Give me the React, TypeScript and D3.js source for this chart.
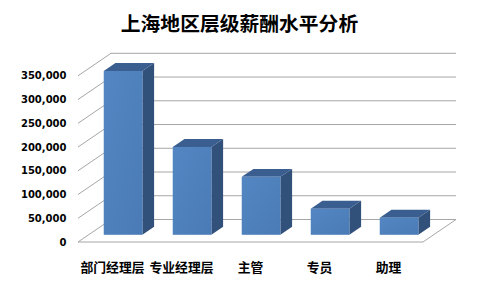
import React from "react";
import * as d3 from "d3";

const categories = ["部门经理层", "专业经理层", "主管", "专员", "助理"];
const salaries = [345000, 185000, 122000, 55000, 36000];
const yTicks = [0, 50000, 100000, 150000, 200000, 250000, 300000, 350000];
const title = "上海地区层级薪酬水平分析";

const W = 481;
const H = 285;
// front plane of the 3D box
const left = 78;
const right = 423;
const baseY = 242;
const topY = 75.8;
// oblique depth offset (full depth)
const DX = 33;
const DY = -22.5;
// bar depth span (fraction of full depth)
const t0 = 0.32;
const t1 = 0.675;

const fmt = d3.format(",");

export default function App() {
  const y = d3.scaleLinear().domain([0, 350000]).range([baseY, topY]);
  const x = d3
    .scaleBand<string>()
    .domain(categories)
    .range([left, right])
    .paddingInner(0.44)
    .paddingOuter(0.22);
  const xc = d3.scaleBand<string>().domain(categories).range([left, right]);

  const gridColor = "#A6A6A6";
  const pts = (p: number[][]) => p.map((q) => q.join(",")).join(" ");

  return (
    <svg
      width={W}
      height={H}
      style={{ position: "absolute", left: 0, top: 0, background: "#fff" }}
      fontFamily="'DejaVu Sans', Verdana, sans-serif"
    >
      <defs>
        <linearGradient id="frontFill" x1="0" y1="0" x2="1" y2="1">
          <stop offset="0" stopColor="#5386C2" />
          <stop offset="1" stopColor="#4A7BB7" />
        </linearGradient>
      </defs>
      <text
        x={239.5}
        y={22}
        textAnchor="middle"
        dominantBaseline="central"
        fontFamily="'Noto Sans CJK SC', sans-serif"
        fontWeight="bold"
        fontSize={19.8}
        fill="#000"
      >
        {title}
      </text>

      {/* side wall and back wall gridlines */}
      {yTicks.map((t) => {
        const yy = y(t);
        return (
          <g key={t} stroke={gridColor} strokeWidth={1} fill="none">
            <line x1={left} y1={yy} x2={left + DX} y2={yy + DY} />
            <line x1={left + DX} y1={yy + DY} x2={right + DX} y2={yy + DY} />
          </g>
        );
      })}
      {/* floor outline */}
      <g stroke={gridColor} strokeWidth={1} fill="none">
        <line x1={left} y1={baseY} x2={right} y2={baseY} />
        <line x1={right} y1={baseY} x2={right + DX} y2={baseY + DY} />
      </g>

      {/* bars */}
      {categories.map((c, i) => {
        const bx = x(c)!;
        const w = x.bandwidth();
        const yv = y(salaries[i]);
        const y0 = y(0);
        const ax = DX * t0, ay = DY * t0;
        const bx1 = DX * t1, by1 = DY * t1;
        return (
          <g key={c}>
            <polygon
              points={pts([
                [bx + w + ax, yv + ay],
                [bx + w + bx1, yv + by1],
                [bx + w + bx1, y0 + by1],
                [bx + w + ax, y0 + ay],
              ])}
              fill="#31507A"
            />
            <polygon
              points={pts([
                [bx + ax, yv + ay],
                [bx + bx1, yv + by1],
                [bx + w + bx1, yv + by1],
                [bx + w + ax, yv + ay],
              ])}
              fill="#3A5E90"
            />
            <rect
              x={bx + ax}
              y={yv + ay}
              width={w}
              height={y0 - yv}
              fill="url(#frontFill)"
            />
          </g>
        );
      })}

      {/* y axis labels */}
      {yTicks.map((t) => (
        <text
          key={t}
          x={66.5}
          y={y(t)}
          textAnchor="end"
          dominantBaseline="central"
          fontWeight="bold"
          fontSize={10}
          fill="#000"
        >
          {fmt(t)}
        </text>
      ))}

      {/* category labels */}
      {categories.map((c) => (
        <text
          key={c}
          x={xc(c)! + xc.bandwidth() / 2}
          y={266}
          textAnchor="middle"
          dominantBaseline="central"
          fontFamily="'Noto Sans CJK SC', sans-serif"
          fontWeight="bold"
          fontSize={12.8}
          fill="#000"
        >
          {c}
        </text>
      ))}
    </svg>
  );
}
